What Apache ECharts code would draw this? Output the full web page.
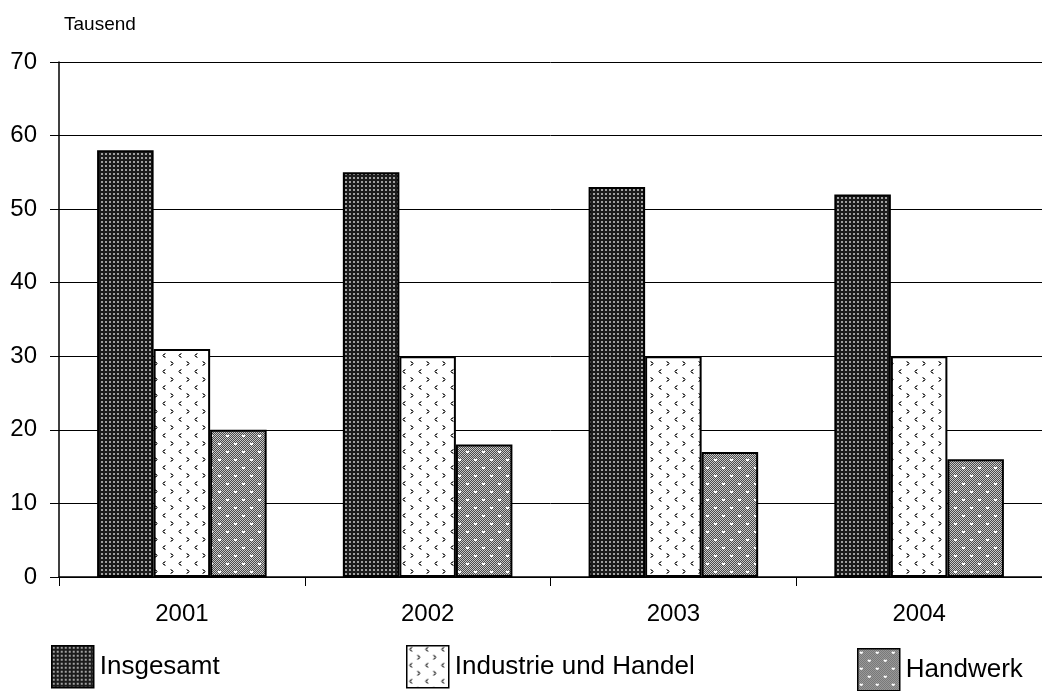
<!DOCTYPE html>
<html><head><meta charset="utf-8">
<script src="https://cdn.jsdelivr.net/npm/echarts@6/dist/echarts.min.js"></script>
<style>html,body{margin:0;padding:0;background:#fff}#c{width:1042px;height:691px}</style>
</head><body><div id="c"></div>
<script>
const categories = ['2001', '2002', '2003', '2004'];
const seriesNames = ['Insgesamt', 'Industrie und Handel', 'Handwerk'];
const insgesamt = [58, 55, 53, 52];
const industrie = [31, 30, 30, 30];
const handwerk = [20, 18, 17, 16];
const yTicks = [0, 10, 20, 30, 40, 50, 60, 70];

function pat(w, h, draw) {
  const c = document.createElement('canvas');
  c.width = w; c.height = h;
  const g = c.getContext('2d');
  draw(g, w, h);
  return c;
}
const pDark = pat(4, 4, (g) => {
  g.fillStyle = '#1c1c1c'; g.fillRect(0, 0, 4, 4);
  g.fillStyle = '#a0a0a0'; g.fillRect(1, 1, 2, 2);
});
function chevL(g, x, y) {
  g.fillStyle = '#888';
  g.fillRect(x + 2, y, 2, 1); g.fillRect(x, y + 2, 2, 1);
  g.fillRect(x + 2, y + 4, 2, 1);
  g.fillStyle = '#333';
  g.fillRect(x + 1, y + 1, 2, 1); g.fillRect(x + 1, y + 3, 2, 1);
}
function chevR(g, x, y) {
  g.fillStyle = '#888';
  g.fillRect(x, y, 2, 1); g.fillRect(x + 2, y + 2, 2, 1);
  g.fillRect(x, y + 4, 2, 1);
  g.fillStyle = '#333';
  g.fillRect(x + 1, y + 1, 2, 1); g.fillRect(x + 1, y + 3, 2, 1);
}
const pChev = pat(16, 16, (g) => {
  g.fillStyle = '#fff'; g.fillRect(0, 0, 16, 16);
  chevL(g, 2, 1);
  chevR(g, 10, 9);
});
const pCheck = pat(16, 16, (g) => {
  for (let y = 0; y < 16; y++) for (let x = 0; x < 16; x++) {
    g.fillStyle = ((x + y) % 2) ? '#4a4a4a' : '#c8c8c8';
    g.fillRect(x, y, 1, 1);
  }
  g.fillStyle = '#fff';
  g.fillRect(2, 3, 3, 2); g.fillRect(10, 11, 3, 2);
});
const fills = [pDark, pChev, pCheck];
const dataSets = [insgesamt, industrie, handwerk];

const font = 'Liberation Sans, Arial, sans-serif';
const chart = echarts.init(document.getElementById('c'));
const legendPos = [{left: 51, top: 645}, {left: 406, top: 645}, {left: 857, top: 648}];
chart.setOption({
  animation: false,
  textStyle: {fontFamily: font},
  grid: {left: 59, right: -1, top: 62, bottom: 114},
  legend: seriesNames.map((n, i) => ({
    data: [n], left: legendPos[i].left, top: legendPos[i].top,
    itemWidth: 42, itemHeight: 42, itemGap: 4, padding: 0,
    icon: 'rect',
    itemStyle: {borderColor: '#000', borderWidth: 1.5},
    textStyle: {fontSize: 26, color: '#000', fontFamily: font, padding: [0, 0, 0, 1]}
  })),
  xAxis: {
    type: 'category', data: categories,
    axisLine: {lineStyle: {color: '#000', width: 1.5}},
    axisTick: {show: true, length: 9, lineStyle: {color: '#000'}},
    axisLabel: {fontSize: 24, color: '#000', margin: 25, fontFamily: font}
  },
  yAxis: {
    type: 'value', min: 0, max: 70, interval: 10,
    name: 'Tausend', nameLocation: 'end', nameGap: 28,
    nameTextStyle: {fontSize: 19, color: '#000', align: 'left', padding: [0, 0, 0, 5], fontFamily: font},
    axisLine: {show: true, lineStyle: {color: '#000', width: 1.5}},
    axisTick: {show: true, length: 9, lineStyle: {color: '#000'}},
    axisLabel: {fontSize: 24, color: '#000', margin: 22, fontFamily: font,
      formatter: (v) => yTicks.includes(v) ? String(v) : ''},
    splitLine: {lineStyle: {color: '#000', width: 1}}
  },
  series: seriesNames.map((n, i) => ({
    name: n, type: 'bar', data: dataSets[i],
    barGap: '0%', barCategoryGap: '31%',
    itemStyle: {color: {image: fills[i], repeat: 'repeat'}, borderColor: '#000', borderWidth: 2}
  }))
});
</script></body></html>
